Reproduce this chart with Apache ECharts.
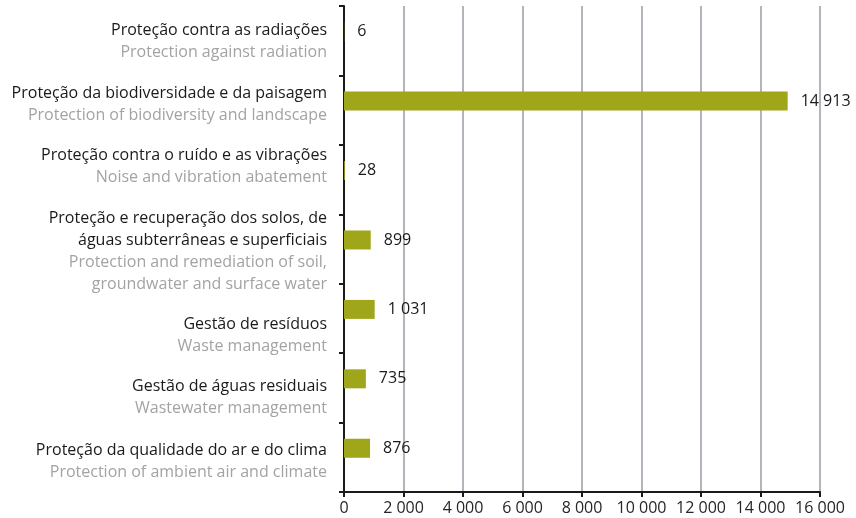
<!DOCTYPE html>
<html>
<head>
<meta charset="utf-8">
<script src="https://cdn.jsdelivr.net/npm/echarts@6/dist/echarts.min.js"></script>
<style>
  html, body { margin: 0; padding: 0; background: #fff; }
  #chart { width: 856px; height: 518px; }
</style>
</head>
<body>
<div id="chart"></div>
<script>
// categorias (de cima para baixo)
const labelsPt = [
    'Proteção contra as radiações',
    'Proteção da biodiversidade e da paisagem',
    'Proteção contra o ruído e as vibrações',
    'Proteção e recuperação dos solos, de\náguas subterrâneas e superficiais',
    'Gestão de resíduos',
    'Gestão de águas residuais',
    'Proteção da qualidade do ar e do clima'
]
const labelsEn = [
    'Protection against radiation',
    'Protection of biodiversity and landscape',
    'Noise and vibration abatement',
    'Protection and remediation of soil,\ngroundwater and surface water',
    'Waste management',
    'Wastewater management',
    'Protection of ambient air and climate'
]
const values = [6, 14913, 28, 899, 1031, 735, 876]
const xTicks = [0, 2000, 4000, 6000, 8000, 10000, 12000, 14000, 16000]

const fontFamily = 'Open Sans'
const barColor = '#9fa619'

// número com espaço como separador de milhares
function fmt(v) {
    return String(v).replace(/\B(?=(\d{3})+(?!\d))/g, ' ')
}

// deslocamento vertical dos rótulos (como no original)
const labelShift = [1, -6, -13, 2, 17, 10, 4]

const catData = labelsPt.map((pt, i) => {
    const s = labelShift[i]
    return {
        value: pt,
        textStyle: { padding: s >= 0 ? [2 * s, 0, 0, 0] : [0, 0, -2 * s, 0] }
    }
})

const chart = echarts.init(document.getElementById('chart'), null, { renderer: 'canvas' })

const option = {
    animation: false,
    grid: { left: 344, right: 36, top: 6, bottom: 26, containLabel: false },
    xAxis: {
        type: 'value',
        min: xTicks[0],
        max: xTicks[xTicks.length - 1],
        interval: 2000,
        axisLine: { show: true, lineStyle: { color: '#1a1a1a', width: 2 } },
        axisTick: { show: true, length: 5, lineStyle: { color: '#1a1a1a', width: 2 } },
        axisLabel: {
            color: '#262626',
            fontFamily: fontFamily,
            fontSize: 16,
            margin: 8,
            formatter: v => fmt(v)
        },
        splitLine: { show: true, lineStyle: { color: '#b4b4bc', width: 2 } }
    },
    yAxis: {
        type: 'category',
        inverse: true,
        data: catData,
        axisLine: { show: true, lineStyle: { color: '#1a1a1a', width: 2 } },
        axisTick: { show: true, length: 5, lineStyle: { color: '#1a1a1a', width: 2 } },
        splitLine: { show: false },
        axisLabel: {
            margin: 17,
            align: 'right',
            verticalAlign: 'middle',
            formatter: (val, idx) => {
                const pt = labelsPt[idx].split('\n').map(l => '{pt|' + l + '}')
                const en = labelsEn[idx].split('\n').map(l => '{en|' + l + '}')
                return pt.concat(en).join('\n')
            },
            rich: {
                pt: { color: '#1a1a1a', fontFamily: fontFamily, fontSize: 16, lineHeight: 22, align: 'right' },
                en: { color: '#a3a3a3', fontFamily: fontFamily, fontSize: 16, lineHeight: 22, align: 'right' }
            }
        }
    },
    series: [
        {
            type: 'bar',
            data: values,
            barWidth: 19,
            barGap: '-5%',
            itemStyle: { color: barColor },
            label: {
                show: true,
                position: 'right',
                distance: 13,
                color: '#1a1a1a',
                fontFamily: fontFamily,
                fontSize: 16,
                formatter: p => fmt(p.value)
            }
        },
        {
            // série vazia, só para deslocar as barras como no original
            type: 'bar',
            data: values.map(() => null),
            barWidth: 19,
            silent: true
        }
    ]
}

chart.setOption(option)
</script>
</body>
</html>
